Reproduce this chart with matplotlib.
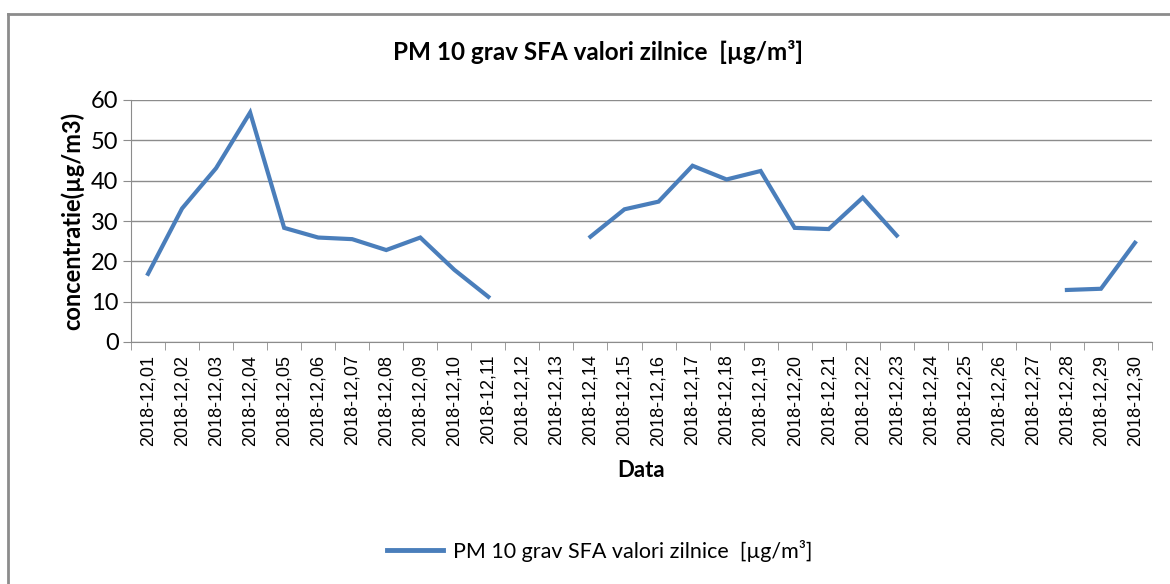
import numpy as np
import matplotlib.pyplot as plt
from matplotlib.lines import Line2D

dates = ['2018-12,%02d' % d for d in range(1, 31)]
pm10 = [16.9, 33.1, 43.1, 56.9, 28.3, 25.9, 25.5, 22.8, 25.9, 17.9,
        11.2, np.nan, np.nan, 26.1, 32.9, 34.8, 43.7, 40.3, 42.4, 28.3,
        28.0, 35.8, 26.4, np.nan, np.nan, np.nan, np.nan, 12.9, 13.2, 24.6]
series_name = 'PM 10 grav SFA valori zilnice  [µg/m³]'

plt.rcParams['font.family'] = ['Lato', 'DejaVu Sans']

fig = plt.figure(figsize=(11.7, 5.84), dpi=100)
ax = fig.add_axes([131 / 1170, 1 - 342 / 584, (1152 - 131) / 1170, (342 - 100) / 584])

x = np.arange(len(dates))
ax.plot(x, pm10, color='#4a7ebb', linewidth=3, solid_joinstyle='miter')

ax.set_xlim(-0.5, len(dates) - 0.5)
ax.set_ylim(0, 60)
ax.set_yticks(range(0, 61, 10))
ax.yaxis.grid(True, color='#8c8c8c', linewidth=1)
ax.set_axisbelow(True)

ax.set_xticks(x)
ax.set_xticklabels(dates, rotation=90, fontsize=13, family='Liberation Sans')
ax.set_xticks(np.arange(-0.5, len(dates)), minor=True)
ax.tick_params(axis='x', which='major', length=0, pad=9)
ax.tick_params(axis='x', which='minor', length=6, color='#8c8c8c', direction='out')
ax.tick_params(axis='y', length=6, color='#8c8c8c', labelsize=17, pad=3)

for s in ['top', 'right']:
    ax.spines[s].set_visible(False)
for s in ['left', 'bottom']:
    ax.spines[s].set_color('#8c8c8c')

ax.set_ylabel('concentratie(µg/m3)', fontsize=17, fontweight='bold', labelpad=5)
ax.set_xlabel('Data', fontsize=16, fontweight='bold', labelpad=10)
fig.text(598 / 1170, 1 - 52 / 584, series_name, ha='center', va='center',
         fontsize=17.5, fontweight='bold')

# legend below
leg = fig.legend([Line2D([], [], color='#4a7ebb', linewidth=3.5)], [series_name],
                 loc='center', bbox_to_anchor=(600 / 1170, 1 - 551 / 584),
                 frameon=False, fontsize=15.5, handlelength=2.6, handletextpad=0.45)

# outer chart frame
fig.add_artist(Line2D([8 / 1170, 8 / 1170], [0, 1 - 14 / 584], color='#8c8c8c',
                      linewidth=2, transform=fig.transFigure))
fig.add_artist(Line2D([8 / 1170, 1], [1 - 14 / 584, 1 - 14 / 584], color='#8c8c8c',
                      linewidth=2, transform=fig.transFigure))

fig.savefig('out.png', dpi=100)
